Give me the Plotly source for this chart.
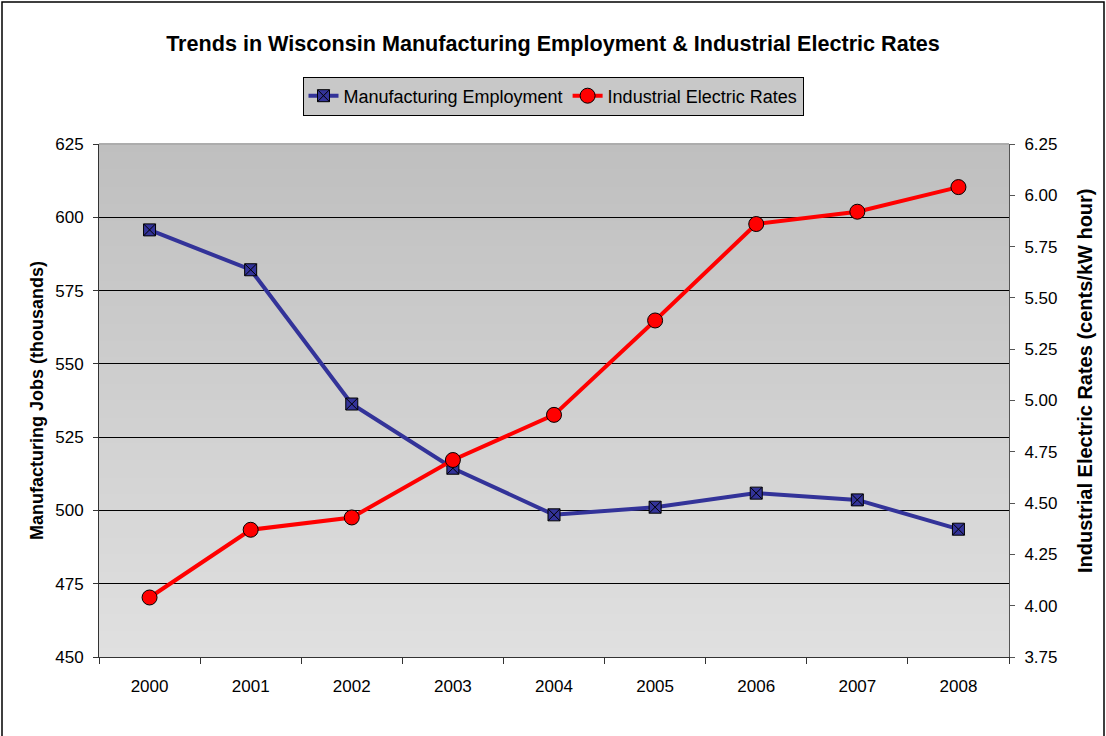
import plotly.graph_objects as go

years = ["2000", "2001", "2002", "2003", "2004", "2005", "2006", "2007", "2008"]
employment = [595.7, 582.1, 536.3, 514.4, 498.5, 501.1, 505.9, 503.6, 493.6]
electric_rates = [4.04, 4.37, 4.43, 4.71, 4.93, 5.39, 5.86, 5.92, 6.04]

FONT = "Arial, 'Liberation Sans', sans-serif"

fig = go.Figure()
fig.add_trace(go.Scatter(
    x=years, y=employment, name="Manufacturing Employment",
    mode="lines+markers",
    line=dict(color="#333399", width=4),
    marker=dict(symbol="square-x", size=12, color="#333399",
                line=dict(color="#000000", width=1)),
    yaxis="y",
))
fig.add_trace(go.Scatter(
    x=years, y=electric_rates, name="Industrial Electric Rates",
    mode="lines+markers",
    line=dict(color="#ff0000", width=4),
    marker=dict(symbol="circle", size=15, color="#ff0000",
                line=dict(color="#000000", width=1)),
    yaxis="y2",
))

# plot area geometry (pixels)
L, R, T, B = 99, 97, 144, 79
W, H = 1106, 736
pw, ph = W - L - R, H - T - B

def px2x(px):
    return (px - L) / pw

def py2y(py):
    return (H - B - py) / ph

# vertical gradient background in the plot area
shapes = []
N = 60
c_top = (0xBF, 0xBF, 0xBF)
c_bot = (0xE0, 0xE0, 0xE0)
for i in range(N):
    f = i / (N - 1)
    c = tuple(round(c_bot[k] + (c_top[k] - c_bot[k]) * f) for k in range(3))
    shapes.append(dict(type="rect", xref="paper", yref="paper",
                       x0=0, x1=1, y0=i / N, y1=(i + 1) / N + 0.002,
                       fillcolor="rgb(%d,%d,%d)" % c, line=dict(width=0),
                       layer="below"))
# top edge of plot area
shapes.append(dict(type="line", xref="paper", yref="paper", x0=0, x1=1, y0=1, y1=1,
                   line=dict(color="#9a9a9a", width=1)))
# outer chart border
shapes.append(dict(type="rect", xref="paper", yref="paper",
                   x0=px2x(2), x1=px2x(1104), y0=py2y(760), y1=py2y(2),
                   line=dict(color="#000000", width=1.5), fillcolor="rgba(0,0,0,0)"))

annotations = [dict(
    text="<b>Industrial Electric Rates (cents/kW hour)</b>",
    xref="paper", yref="paper", x=px2x(1085), y=py2y(381),
    xanchor="center", yanchor="middle", textangle=-90, showarrow=False,
    font=dict(size=20, family=FONT, color="black"),
)]

fig.update_layout(
    width=W, height=H,
    margin=dict(l=L, r=R, t=T, b=B),
    paper_bgcolor="white",
    plot_bgcolor="#d0d0d0",
    font=dict(family=FONT, color="black", size=17),
    title=dict(text="<b>Trends in Wisconsin Manufacturing Employment & Industrial Electric Rates</b>",
               x=0.5, xanchor="center", y=1 - 43 / H, yanchor="middle",
               font=dict(size=21.6, family=FONT, color="black")),
    legend=dict(orientation="h", x=px2x(553), xanchor="center", y=py2y(96), yanchor="middle",
                bgcolor="#c8c8c8", bordercolor="#000000", borderwidth=1,
                font=dict(size=18, family=FONT, color="black"),
                itemwidth=30, tracegroupgap=0),
    xaxis=dict(type="category", range=[-0.5, 8.5], tickson="boundaries",
               ticks="outside", ticklen=6, tickcolor="#333333",
               showline=True, linecolor="#333333", linewidth=1,
               showgrid=False, ticklabelstandoff=14,
               tickfont=dict(size=17, color="black")),
    yaxis=dict(range=[450, 625], dtick=25, tick0=450,
               ticks="outside", ticklen=5, tickcolor="#333333",
               showline=True, linecolor="#333333", linewidth=1,
               showgrid=True, gridcolor="#000000", gridwidth=1,
               zeroline=False, ticklabelstandoff=6,
               tickfont=dict(size=17, color="black"),
               title=dict(text="<b>Manufacturing Jobs (thousands)</b>",
                          font=dict(size=18, color="black"), standoff=6)),
    yaxis2=dict(range=[3.75, 6.25], dtick=0.25, tick0=3.75, tickformat=".2f",
                overlaying="y", side="right",
                ticks="outside", ticklen=5, tickcolor="#555555",
                showline=True, linecolor="#555555", linewidth=1,
                showgrid=False, zeroline=False, ticklabelstandoff=6,
                tickfont=dict(size=17, color="black")),
    shapes=shapes,
    annotations=annotations,
)

fig.write_html("out.html", config={"displayModeBar": False},
               post_script="document.body.style.margin='0';")
